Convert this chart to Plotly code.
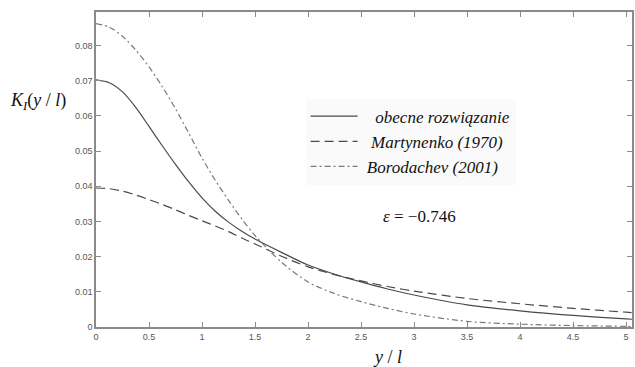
import plotly.graph_objects as go

x_vals = [0, 0.125, 0.25, 0.375, 0.5, 0.625, 0.75, 0.875, 1.0, 1.125, 1.25, 1.375, 1.5, 1.75,
          2.0, 2.25, 2.5, 2.75, 3.0, 3.5, 4.0, 4.5, 5.0, 5.06]

obecne = [0.0702, 0.0694, 0.0668, 0.0624, 0.0570, 0.0515, 0.0462, 0.0412, 0.0367, 0.0329, 0.0298, 0.0272, 0.0250, 0.0212,
          0.0176, 0.0150, 0.0128, 0.0108, 0.0091, 0.0063, 0.0046, 0.0033, 0.0023, 0.0022]
martynenko = [0.0395, 0.0393, 0.0386, 0.0375, 0.0362, 0.0348, 0.0333, 0.0317, 0.0302, 0.0287, 0.0271, 0.0253, 0.0236, 0.0201,
              0.0171, 0.0149, 0.0131, 0.0115, 0.0102, 0.0081, 0.0066, 0.0053, 0.0042, 0.0041]
borodachev = [0.0862, 0.0852, 0.0826, 0.0787, 0.0739, 0.0683, 0.0620, 0.0551, 0.0480, 0.0417, 0.0360, 0.0307, 0.0260, 0.0184,
              0.0128, 0.0095, 0.0072, 0.0053, 0.0037, 0.0016, 0.0008, 0.0004, 0.0002, 0.0002]

names = ["\u00a0\u00a0\u00a0obecne rozwiązanie", "\u00a0\u00a0Martynenko (1970)", "\u00a0Borodachev (2001)"]
x_ticks = [0, 0.5, 1, 1.5, 2, 2.5, 3, 3.5, 4, 4.5, 5]
x_tick_text = ["0", "0.5", "1", "1.5", "2", "2.5", "3", "3.5", "4", "4.5", "5"]
y_ticks = [0, 0.01, 0.02, 0.03, 0.04, 0.05, 0.06, 0.07, 0.08]
y_tick_text = ["0", "0.01", "0.02", "0.03", "0.04", "0.05", "0.06", "0.07", "0.08"]

SERIF = "Liberation Serif, DejaVu Serif, Times New Roman, serif"

fig = go.Figure()
fig.add_trace(go.Scatter(x=x_vals, y=obecne, mode="lines", name=names[0],
                         line=dict(color="#4a4a4a", width=1.2, shape="spline", smoothing=0.8, dash="solid")))
fig.add_trace(go.Scatter(x=x_vals, y=martynenko, mode="lines", name=names[1],
                         line=dict(color="#4a4a4a", width=1.2, shape="spline", smoothing=0.8, dash="9px,5px")))
fig.add_trace(go.Scatter(x=x_vals, y=borodachev, mode="lines", name=names[2],
                         line=dict(color="#7a7a7a", width=1.2, shape="spline", smoothing=0.8, dash="6px,3px,2px,3px")))

axis_common = dict(showline=True, linecolor="#8a8a8a", linewidth=1.5, mirror="ticks",
                   ticks="inside", ticklen=5, tickcolor="#8a8a8a", tickwidth=1,
                   showgrid=False, zeroline=False,
                   tickfont=dict(family="Liberation Sans", size=9, color="#555555"))

fig.update_xaxes(range=[0, 5.056], tickvals=x_ticks, ticktext=x_tick_text, **axis_common)
fig.update_yaxes(range=[0, 0.0895], tickvals=y_ticks, ticktext=y_tick_text, **axis_common)

fig.update_layout(
    width=635, height=367,
    margin=dict(l=96, r=1, t=12, b=40),
    paper_bgcolor="white", plot_bgcolor="white",
    showlegend=True,
    legend=dict(x=0.391, y=0.725, xanchor="left", yanchor="top",
                bgcolor="#fafafa", borderwidth=0,
                font=dict(family=SERIF, size=17, color="#111111", style="italic"),
                itemwidth=47, tracegroupgap=0),
    annotations=[
        dict(text="<i>K<sub>I</sub></i>(<i>y</i> / <i>l</i>)", xref="paper", yref="paper",
             x=-0.108, y=0.715, xanchor="center", yanchor="middle", showarrow=False,
             font=dict(family=SERIF, size=18, color="#111111")),
        dict(text="<i>y</i> / <i>l</i>", xref="paper", yref="paper",
             x=0.543, y=-0.095, xanchor="center", yanchor="middle", showarrow=False,
             font=dict(family=SERIF, size=18, color="#111111")),
        dict(text="<i>ε</i> = −0.746", xref="paper", yref="paper",
             x=0.604, y=0.352, xanchor="center", yanchor="middle", showarrow=False,
             font=dict(family=SERIF, size=17, color="#111111")),
    ],
)

fig.write_html("out.html")
